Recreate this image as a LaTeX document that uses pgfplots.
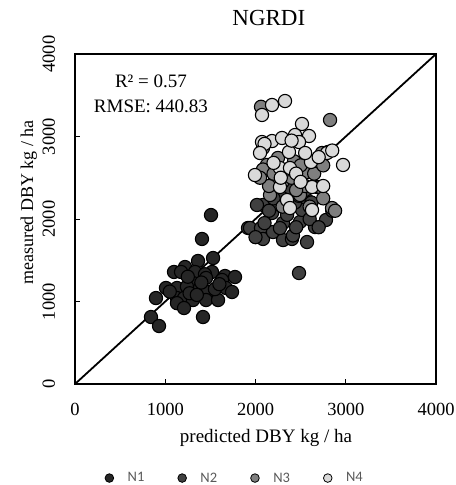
\documentclass[border=0pt]{standalone}
\usepackage{pgfplots}
\pgfplotsset{compat=1.18}
\usepackage{fontspec}
\setmainfont{Liberation Serif}
\newfontfamily\legfont{Carlito}
\definecolor{cA}{HTML}{262626}
\definecolor{cB}{HTML}{404040}
\definecolor{cC}{HTML}{7F7F7F}
\definecolor{cD}{HTML}{D9D9D9}
\definecolor{legtext}{HTML}{595959}
\begin{document}
\begin{tikzpicture}
\path[use as bounding box] (-75bp,-101bp) rectangle (381bp,384bp);
\begin{axis}[
  scale only axis, width=361bp, height=330bp,
  xmin=0, xmax=4000, ymin=0, ymax=4000,
  xtick={0,1000,2000,3000,4000}, ytick={0,1000,2000,3000,4000},
  xtick pos=bottom, ytick pos=left, tick align=inside,
  major tick length=5bp,
  axis line style={line width=1.3bp},
  every tick/.style={black, line width=1bp},
  /pgf/number format/assume math mode=true,
  /pgf/number format/1000 sep={},
  tick label style={font=\fontsize{18.5bp}{20bp}\selectfont},
  xticklabel style={anchor=base, yshift=-31bp},
  yticklabel style={xshift=-20bp, rotate=90, anchor=base},
  title={NGRDI},
  title style={font=\fontsize{23bp}{25bp}\selectfont, at={(axis description cs:0.537,1.067)}, anchor=base},
  xlabel={predicted DBY kg / ha},
  xlabel style={font=\fontsize{19bp}{21bp}\selectfont, at={(axis description cs:0.529,-0.176)}, anchor=base},
  ylabel={measured DBY kg / ha},
  ylabel style={font=\fontsize{18bp}{20bp}\selectfont, at={(axis description cs:-0.116,0.55)}, anchor=base, rotate=0},
  legend columns=4,
  legend style={draw=none, fill=none, at={(axis description cs:0.443,-0.285)}, anchor=center,
    font=\legfont\fontsize{14.5bp}{16bp}\selectfont, text=legtext,
    /tikz/every odd column/.append style={column sep=12bp},
    /tikz/every even column/.append style={column sep=31.5bp}},
  clip=false,
]
\addlegendimage{only marks, mark=*, mark size=4.3bp, mark options={fill=cA, draw=black, line width=0.8bp}}
\addlegendentry{N1}
\addlegendimage{only marks, mark=*, mark size=4.3bp, mark options={fill=cB, draw=black, line width=0.8bp}}
\addlegendentry{N2}
\addlegendimage{only marks, mark=*, mark size=4.3bp, mark options={fill=cC, draw=black, line width=0.8bp}}
\addlegendentry{N3}
\addlegendimage{only marks, mark=*, mark size=4.3bp, mark options={fill=cD, draw=black, line width=0.8bp}}
\addlegendentry{N4}
% N1
\addplot[forget plot, only marks, mark=*, mark size=6.6bp, mark options={fill=cA, draw=black, line width=1.1bp}] table {
x y
1507 2048
1407 1758
1530 1527
1363 1491
1219 1418
1097 1358
1175 1358
1518 1358
1330 1358
1440 1330
1662 1309
1773 1297
1452 1285
1629 1261
1307 1224
1008 1164
1130 1164
1240 1180
1385 1164
1673 1164
1740 1115
1463 1115
897 1042
1130 1042
1208 1042
1307 1018
1452 1018
1585 1018
1130 980
1208 921
1418 812
842 812
931 703
1270 1100
1350 1080
1550 1150
1600 1210
1250 1300
1050 1120
1400 1230
};
% N2
\addplot[forget plot, only marks, mark=*, mark size=6.6bp, mark options={fill=cB, draw=black, line width=1.1bp}] table {
x y
1917 1891
1939 1891
2061 1891
2083 1758
2194 1842
2305 1745
2404 1758
2305 1952
2493 1964
2659 1903
2781 1988
2571 1721
2482 1345
2083 2170
2016 2170
2183 2073
2571 2230
2515 2110
2438 2200
2238 2180
2271 1890
2415 1800
2600 2000
2150 2100
2350 2050
2450 1900
2700 1900
2850 2100
2550 2350
2300 2300
2200 2250
2000 1780
2380 2380
2480 2280
2620 2200
2100 1950
};
% N3
\addplot[forget plot, only marks, mark=*, mark size=6.6bp, mark options={fill=cC, draw=black, line width=1.1bp}] table {
x y
2061 3360
2826 3200
2127 2655
2083 2600
2216 2485
2161 2291
2493 2291
2682 2388
2715 2388
2848 2133
2882 2100
2249 2740
2427 2700
2737 2800
2571 2570
2083 2860
2300 2450
2400 2500
2150 2400
2550 2400
2650 2550
2750 2650
2350 2600
2200 2550
2600 2150
2450 2350
2300 2150
2750 2250
2500 2650
2050 2500
};
% N4
\addplot[forget plot, only marks, mark=*, mark size=6.6bp, mark options={fill=cD, draw=black, line width=1.1bp}] table {
x y
2327 3430
2183 3382
2072 3261
2515 3152
2593 3006
2072 2933
2183 2945
2294 2982
2438 3018
2482 2933
2371 2812
2615 2691
2970 2655
1994 2533
2271 2618
2382 2618
2803 2812
2271 2388
2626 2388
2349 2230
2382 2133
2626 2109
2792 2800
2850 2830
2100 2910
2400 2950
2550 2800
2450 2550
2200 2680
2700 2750
2500 2450
2280 2500
2750 2400
2050 2800
};
\addplot[forget plot, black, line width=1.8bp] coordinates {(0,0) (4000,4000)};
\node[anchor=base, font=\fontsize{19bp}{21bp}\selectfont] at (axis cs:842,3588) {R² = 0.57};
\node[anchor=base, font=\fontsize{19bp}{21bp}\selectfont] at (axis cs:842,3297) {RMSE: 440.83};
\end{axis}
\end{tikzpicture}
\end{document}
